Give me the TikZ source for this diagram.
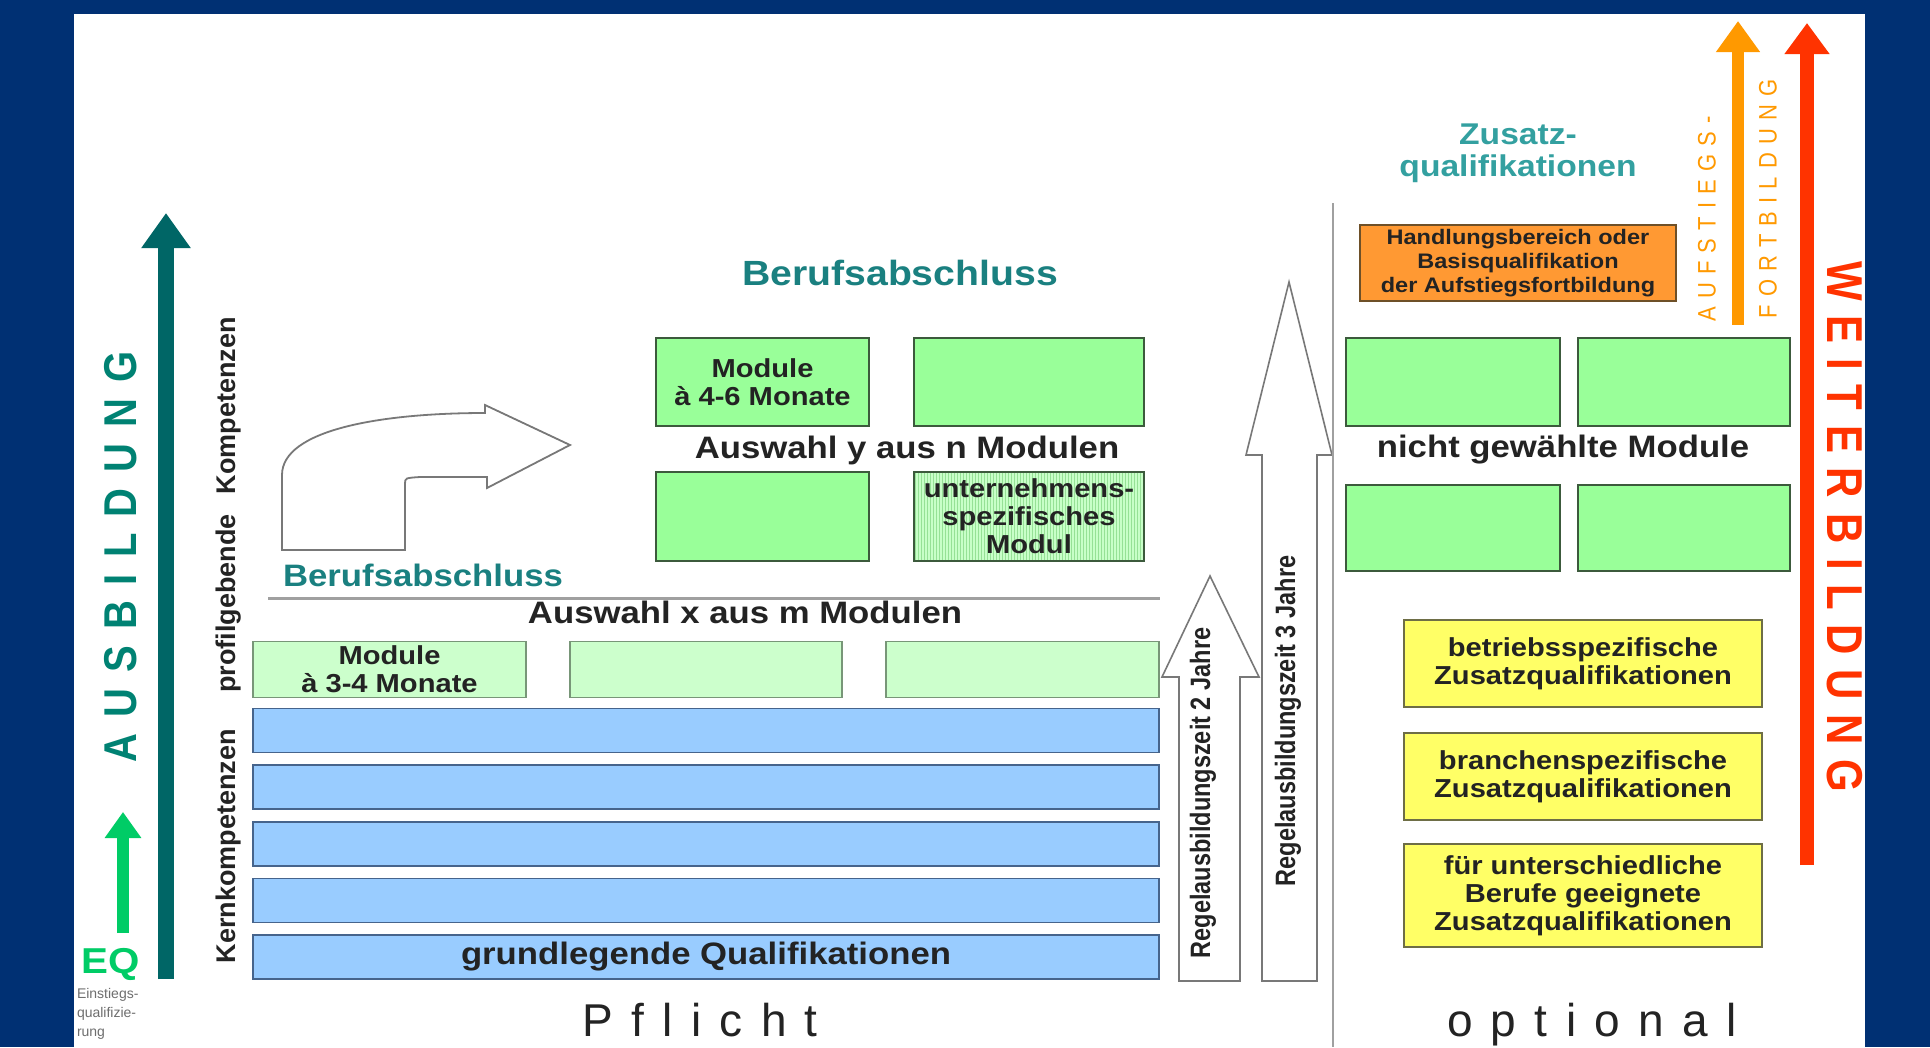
\documentclass[tikz,border=0pt]{standalone}
\usepackage{fontspec}
\setmainfont{Liberation Sans}[FakeStretch=1.12]
\newfontfamily\plainsf{Liberation Sans}
\newfontfamily\narrowsf{Liberation Sans}[FakeStretch=0.84]
\newfontfamily\spacedsf{Liberation Sans}[LetterSpace=40]
\newfontfamily\capsA{Liberation Sans}[LetterSpace=40]
\newfontfamily\capsW{Liberation Sans}[LetterSpace=35]
\newfontfamily\capsO{Liberation Sans}[LetterSpace=37]
\usetikzlibrary{arrows.meta,patterns}
\definecolor{bgblue}{RGB}{0,48,115}
\definecolor{tealdark}{RGB}{0,102,102}
\definecolor{tealtext}{RGB}{26,128,128}
\definecolor{ausbteal}{RGB}{0,130,115}
\definecolor{zusatz}{RGB}{51,160,160}
\definecolor{eqgreen}{RGB}{0,204,102}
\definecolor{barblue}{RGB}{153,204,255}
\definecolor{barline}{RGB}{70,100,140}
\definecolor{lgfill}{RGB}{204,255,204}
\definecolor{lgline}{RGB}{120,150,120}
\definecolor{gfill}{RGB}{153,255,153}
\definecolor{gline}{RGB}{60,90,60}
\definecolor{hatchfill}{RGB}{200,255,200}
\definecolor{hatchline}{RGB}{150,225,150}
\definecolor{yfill}{RGB}{255,255,102}
\definecolor{yline}{RGB}{110,110,70}
\definecolor{ofill}{RGB}{255,153,51}
\definecolor{oline}{RGB}{110,80,40}
\definecolor{orangearrow}{RGB}{255,153,0}
\definecolor{redarrow}{RGB}{255,51,0}
\definecolor{textdark}{RGB}{35,35,35}
\definecolor{linegray}{RGB}{160,160,160}
\definecolor{arrowgray}{RGB}{120,120,120}
\definecolor{smallgray}{RGB}{110,110,110}
\newcommand{\fsz}[2]{\fontsize{#1}{#2}\selectfont}
\begin{document}
\begin{tikzpicture}[x=1pt,y=-1pt,
  every node/.style={inner sep=0pt, outer sep=0pt},
  bluebar/.style={draw=barline, fill=barblue, line width=1.8pt, minimum width=906pt, minimum height=44pt},
  lgbox/.style={draw=lgline, fill=lgfill, line width=1.8pt, minimum height=56pt, align=center, font=\bfseries\fsz{26}{28}, text=textdark},
  gbox/.style={draw=gline, fill=gfill, line width=1.8pt, align=center, font=\bfseries\fsz{26}{28}, text=textdark},
  ybox/.style={draw=yline, fill=yfill, line width=1.8pt, minimum width=358pt, align=center, font=\bfseries\fsz{26}{28}, text=textdark},
  bigtxt/.style={font=\bfseries\fsz{31}{33}, text=textdark},
  blockarrow/.style={draw=arrowgray, fill=white, line width=1.6pt, line join=miter},
  vtxt/.style={rotate=90, font=\plainsf\bfseries\fsz{27}{27}, text=textdark},
  regtxt/.style={rotate=90, font=\narrowsf\bfseries\fsz{28}{28}, text=textdark}
]
% background
\fill[bgblue] (0,0) rectangle (1930,1047);
\fill[white] (74,14) rectangle (1865,1047);
\useasboundingbox (0,0) rectangle (1930,1047);

% left arrows
\coordinate (ta0) at (166,979);
\coordinate (ta1) at (166,213);
\draw[tealdark, line width=16pt, -{Triangle[length=35pt,width=47pt]}] (ta0) -- (ta1);
\coordinate (ga0) at (123,933);
\coordinate (ga1) at (123,812);
\draw[eqgreen, line width=12pt, -{Triangle[length=26pt,width=35pt]}] (ga0) -- (ga1);
\node[xscale=1.15, rotate=90, font=\capsA\bfseries\fsz{40}{40}, text=ausbteal] (ausb) at (121,557) {AUSBILDUNG};
\node[font=\bfseries\fsz{36}{36}, text=eqgreen] (eq) at (111,964) {EQ};
\node[anchor=north west, align=left, font=\plainsf\fsz{14}{19}, text=smallgray] (einst) at (77,988) {Einstiegs-\\qualifizie-\\rung};

% vertical labels
\node[vtxt] (kern) at (229,846) {Kernkompetenzen};
\node[vtxt] (profil) at (229,505) {profilgebende\hspace{20pt}Kompetenzen};

% blue bars
\node[bluebar] (k1) at (706,730.5) {};
\node[bluebar] (k2) at (706,787) {};
\node[bluebar] (k3) at (706,844) {};
\node[bluebar] (k4) at (706,900.5) {};
\node[bluebar, font=\bfseries\fsz{31}{33}, text=textdark] (k5) at (706,957) {grundlegende Qualifikationen};

% light green modules
\node[lgbox, minimum width=273pt] (p1) at (389.5,669.5) {Module\\à 3-4 Monate};
\node[lgbox, minimum width=272pt] (p2) at (706,669.5) {};
\node[lgbox, minimum width=273pt] (p3) at (1022.5,669.5) {};

% separator and labels
\draw[line width=3pt, linegray] (268,598) -- (1160,598);
\node[bigtxt] (ausx) at (745,612) {Auswahl x aus m Modulen};
\node[font=\bfseries\fsz{31}{33}, text=tealtext] (beruf2) at (423,575) {Berufsabschluss};
\node[font=\bfseries\fsz{35}{37}, text=tealtext] (beruf1) at (900,273) {Berufsabschluss};

% curved arrow
\draw[blockarrow, line width=1.8pt] (282,550) -- (405,550) -- (405,484)
  .. controls (405,478) .. (420,477) -- (487,477) -- (487,488) -- (570,445)
  -- (485,405) -- (485,413) .. controls (380,413) and (282,430) .. (282,475) -- cycle;

% upper green modules
\node[gbox, minimum width=213pt, minimum height=88pt] (m1) at (762.5,382) {Module\\à 4-6 Monate};
\node[gbox, minimum width=230pt, minimum height=88pt] (m2) at (1029,382) {};
\node[gbox, minimum width=213pt, minimum height=89pt] (m3) at (762.5,516.5) {};
\node[gbox, minimum width=230pt, minimum height=89pt, fill=none, preaction={fill=hatchfill}, pattern=vertical lines, pattern color=hatchline] (m4) at (1029,516.5) {unternehmens-\\spezifisches\\Modul};
\node[bigtxt] (ausy) at (907,450) {Auswahl y aus n Modulen};

% block arrows
\draw[blockarrow] (1179,981) -- (1179,677) -- (1162,677) -- (1210,576) -- (1259,677) -- (1240,677) -- (1240,981) -- cycle;
\draw[blockarrow] (1262,981) -- (1262,455) -- (1246,455) -- (1289,282) -- (1332,455) -- (1317,455) -- (1317,981) -- cycle;
\node[regtxt] (reg2) at (1203,793) {Regelausbildungszeit 2 Jahre};
\node[regtxt] (reg3) at (1288,721) {Regelausbildungszeit 3 Jahre};

% divider
\draw[line width=2pt, linegray] (1333,203) -- (1333,1047);

% right side
\node[align=center, font=\bfseries\fsz{30}{32}, text=zusatz] (zus) at (1518,153) {Zusatz-\\qualifikationen};
\node[draw=oline, fill=ofill, line width=1.8pt, minimum width=316pt, minimum height=76pt, align=center, font=\bfseries\fsz{21}{24}, text=textdark] (obox) at (1518,263) {Handlungsbereich oder\\Basisqualifikation\\der Aufstiegsfortbildung};
\node[gbox, minimum width=214pt, minimum height=88pt] (r1) at (1453,382) {};
\node[gbox, minimum width=212pt, minimum height=88pt] (r2) at (1684,382) {};
\node[gbox, minimum width=214pt, minimum height=86pt] (r3) at (1453,528) {};
\node[gbox, minimum width=212pt, minimum height=86pt] (r4) at (1684,528) {};
\node[bigtxt] (nicht) at (1563,450) {nicht gewählte Module};

\node[ybox, minimum height=87pt] (y1) at (1583,663.5) {betriebsspezifische\\Zusatzqualifikationen};
\node[ybox, minimum height=87pt] (y2) at (1583,776.5) {branchenspezifische\\Zusatzqualifikationen};
\node[ybox, minimum height=103pt] (y3) at (1583,895.5) {für unterschiedliche\\Berufe geeignete\\Zusatzqualifikationen};

% right arrows
\coordinate (oa0) at (1738,325);
\coordinate (oa1) at (1738,21);
\draw[orangearrow, line width=12pt, -{Triangle[length=31pt,width=42pt]}] (oa0) -- (oa1);
\coordinate (ra0) at (1807,865);
\coordinate (ra1) at (1807,23);
\draw[redarrow, line width=14pt, -{Triangle[length=31pt,width=43pt]}] (ra0) -- (ra1);
\node[xscale=1.15, rotate=90, font=\capsO\fsz{22}{22}, text=orangearrow] (aufst) at (1707,219) {AUFSTIEGS-};
\node[xscale=1.15, rotate=90, font=\capsO\fsz{22}{22}, text=orangearrow] (fortb) at (1768,199) {FORTBILDUNG};
\node[xscale=1.2, rotate=-90, font=\capsW\bfseries\fsz{42}{42}, text=redarrow] (weiter) at (1845,527) {WEITERBILDUNG};

% bottom labels
\node[anchor=base, font=\spacedsf\fsz{46}{46}, text=textdark] (pflicht) at (700,1036) {Pflicht};
\node[anchor=base, font=\spacedsf\fsz{46}{46}, text=textdark] (optional) at (1592,1036) {optional};
\end{tikzpicture}
\end{document}
